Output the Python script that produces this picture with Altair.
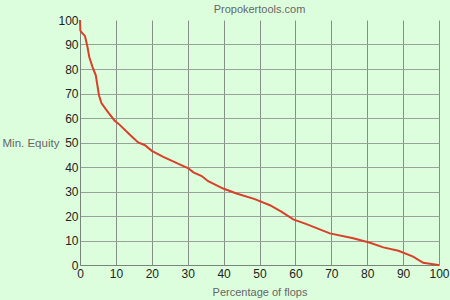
import altair as alt
import pandas as pd

pct = [0, 0.1, 0.4, 1.4, 2.0, 2.6, 3.5, 4.4, 5.3, 6.0, 7.9, 9.6, 10.7, 13.9, 16.2, 18.1,
       20.0, 23.2, 27.9, 30.2, 31.6, 33.9, 35.7, 39.9, 43.6, 48.7, 52.9, 56.2, 59.4,
       63.1, 69.6, 76.1, 80.8, 84.5, 88.7, 92.8, 95.6, 99.8, 100]
equity = [100, 95.7, 95.0, 93.4, 89.6, 84.8, 80.8, 77.4, 69.2, 66.0, 62.2, 59.0, 57.7,
          53.2, 50.0, 48.9, 46.6, 44.1, 41.0, 39.4, 37.8, 36.3, 34.2, 31.2, 29.2, 26.9,
          24.4, 21.7, 18.6, 16.7, 12.9, 10.9, 9.1, 7.2, 5.8, 3.4, 0.9, 0.0, 0.0]
ticks = [0, 10, 20, 30, 40, 50, 60, 70, 80, 90, 100]

df = pd.DataFrame({"pct": pct, "equity": equity})

FONT = "Liberation Sans"
BG = "#ddfedd"

chart = alt.Chart(df).mark_line(color="#d9402a", strokeWidth=2, interpolate="linear").encode(
    x=alt.X("pct:Q", scale=alt.Scale(domain=[0, 100], nice=False),
            axis=alt.Axis(values=ticks, title="Percentage of flops", ticks=False,
                          labelPadding=3, labelFontSize=12, labelColor="#222",
                          labelFont=FONT, titleFont=FONT, titleFontSize=11,
                          titleFontWeight="normal", titleColor="#666", titlePadding=7,
                          gridColor="#869086", domainColor="#7a847a", labelFlush=False)),
    y=alt.Y("equity:Q", scale=alt.Scale(domain=[0, 100], nice=False),
            axis=alt.Axis(values=ticks, title="Min. Equity", ticks=False,
                          labelPadding=2, labelFontSize=12, labelColor="#222",
                          labelFont=FONT, titleFont=FONT, titleFontSize=11.5,
                          titleFontWeight="normal", titleColor="#666",
                          titleAngle=0, titleAlign="left", titleBaseline="middle",
                          titleX=-78, titleY=123,
                          gridColor="#98a298",
                          gridOpacity={"condition": {"test": "datum.value == 100", "value": 0}, "value": 1},
                          domainColor="#7a847a", labelFlush=False)),
).properties(
    width=359, height=245,
    title=alt.TitleParams("Propokertools.com", anchor="middle", dy=7, fontSize=11,
                          fontWeight="normal", color="#666", font=FONT, offset=6),
    background=BG,
    autosize="none",
    padding={"left": 80, "top": 20, "right": 11, "bottom": 35},
).configure_view(strokeWidth=0, fill=BG)

chart.save("out.html", embed_options={"renderer": "svg", "actions": False})
